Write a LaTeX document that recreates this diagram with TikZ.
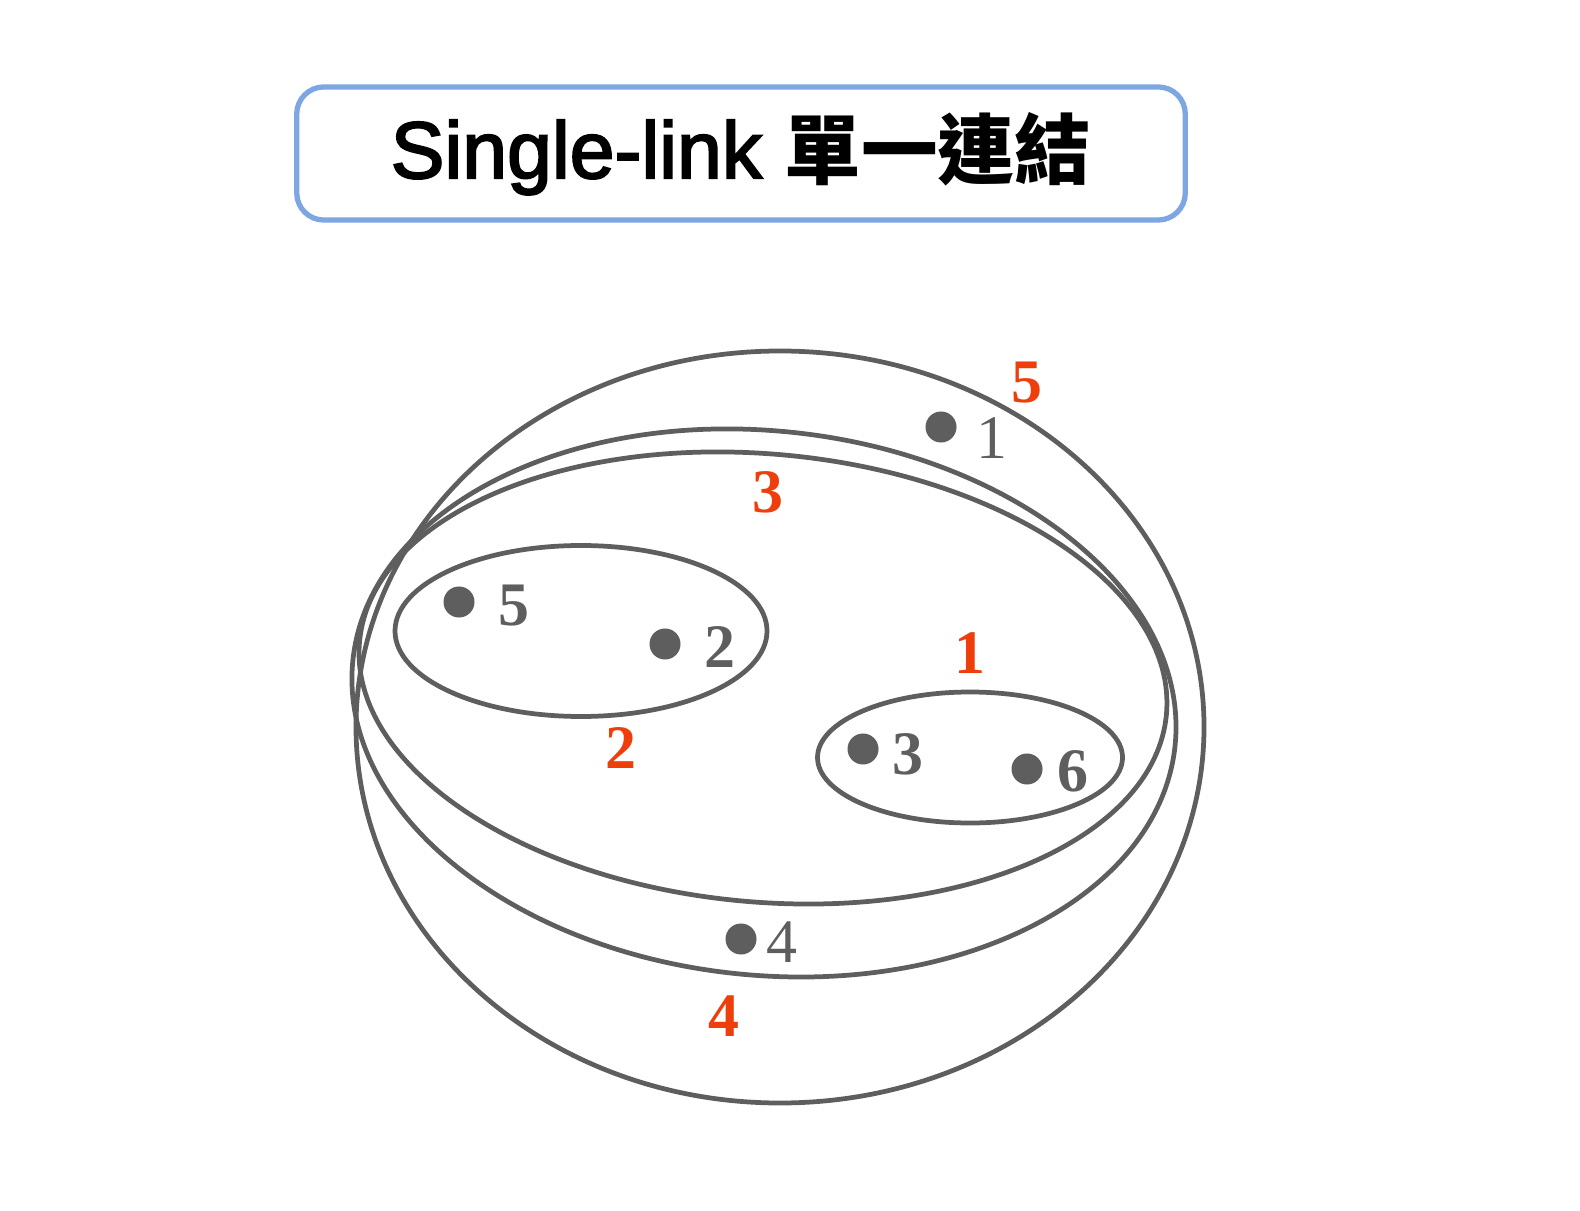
\documentclass[tikz,border=0pt]{standalone}
\usepackage{fontspec}
\setmainfont{Liberation Serif}
\newfontfamily\titlefont[FakeBold=2.5]{Liberation Sans}
\newfontfamily\cjkfont{Noto Sans CJK TC}
\definecolor{ringgray}{RGB}{94,94,94}
\definecolor{stepred}{RGB}{238,62,12}
\definecolor{boxblue}{RGB}{125,166,227}
\begin{document}
\begin{tikzpicture}[x=0.01cm,y=-0.01cm,
  ring/.style={draw=ringgray,line width=1.35pt},
  dot/.style={circle,fill=ringgray,inner sep=0pt,minimum size=0.31cm},
  pointlabel/.style={text=ringgray,inner sep=0pt,font=\fontsize{17.6}{20}\selectfont\bfseries},
  plainlabel/.style={pointlabel,font=\fontsize{17.6}{20}\selectfont\mdseries},
  mergelabel/.style={text=stepred,inner sep=0pt,font=\fontsize{17.6}{20}\selectfont\bfseries}]
\useasboundingbox (0,0) rectangle (1580,1210);

% Title
\node[draw=boxblue,line width=1.5pt,rounded corners=0.27cm,minimum width=8.88cm,minimum height=1.33cm,inner sep=0pt] (title) at (741,153.5)
  {\titlefont\fontsize{22.9}{26}\selectfont Single-link {\cjkfont\bfseries\fontsize{21.8}{26}\selectfont 單一連結}};

% Cluster rings
\coordinate (c5) at (780,727);
\coordinate (c4) at (764,703);
\coordinate (c3) at (763,678);
\coordinate (c2) at (581,631);
\coordinate (c1) at (970,757.5);
\draw[ring] (c5) ellipse [x radius=424, y radius=376];
\draw[ring,rotate around={-5.97:(c4)}] (c4) ellipse [x radius=413.3, y radius=272.1];
\draw[ring,rotate around={-5.14:(c3)}] (c3) ellipse [x radius=405.1, y radius=224];
\draw[ring] (c2) ellipse [x radius=186, y radius=85.5];
\draw[ring] (c1) ellipse [x radius=152.5, y radius=65.5];

% Points
\node[dot] (p1) at (941,427) {};
\node[dot] (p2) at (665,644) {};
\node[dot] (p3) at (863,749) {};
\node[dot] (p4) at (741,939) {};
\node[dot] (p5) at (459,602) {};
\node[dot] (p6) at (1027,769) {};
\node[plainlabel] (l1) at (992,438) {1};
\node[pointlabel] (l2) at (720,647) {2};
\node[pointlabel] (l3) at (908,754) {3};
\node[plainlabel] (l4) at (781.5,942.5) {4};
\node[pointlabel] (l5) at (514,606) {5};
\node[pointlabel] (l6) at (1073,771) {6};

% Merge order
\node[mergelabel] (m1) at (970,653) {1};
\node[mergelabel] (m2) at (621,748) {2};
\node[mergelabel] (m3) at (768,492) {3};
\node[mergelabel] (m4) at (723.5,1016) {4};
\node[mergelabel] (m5) at (1027,383) {5};

\end{tikzpicture}
\end{document}
